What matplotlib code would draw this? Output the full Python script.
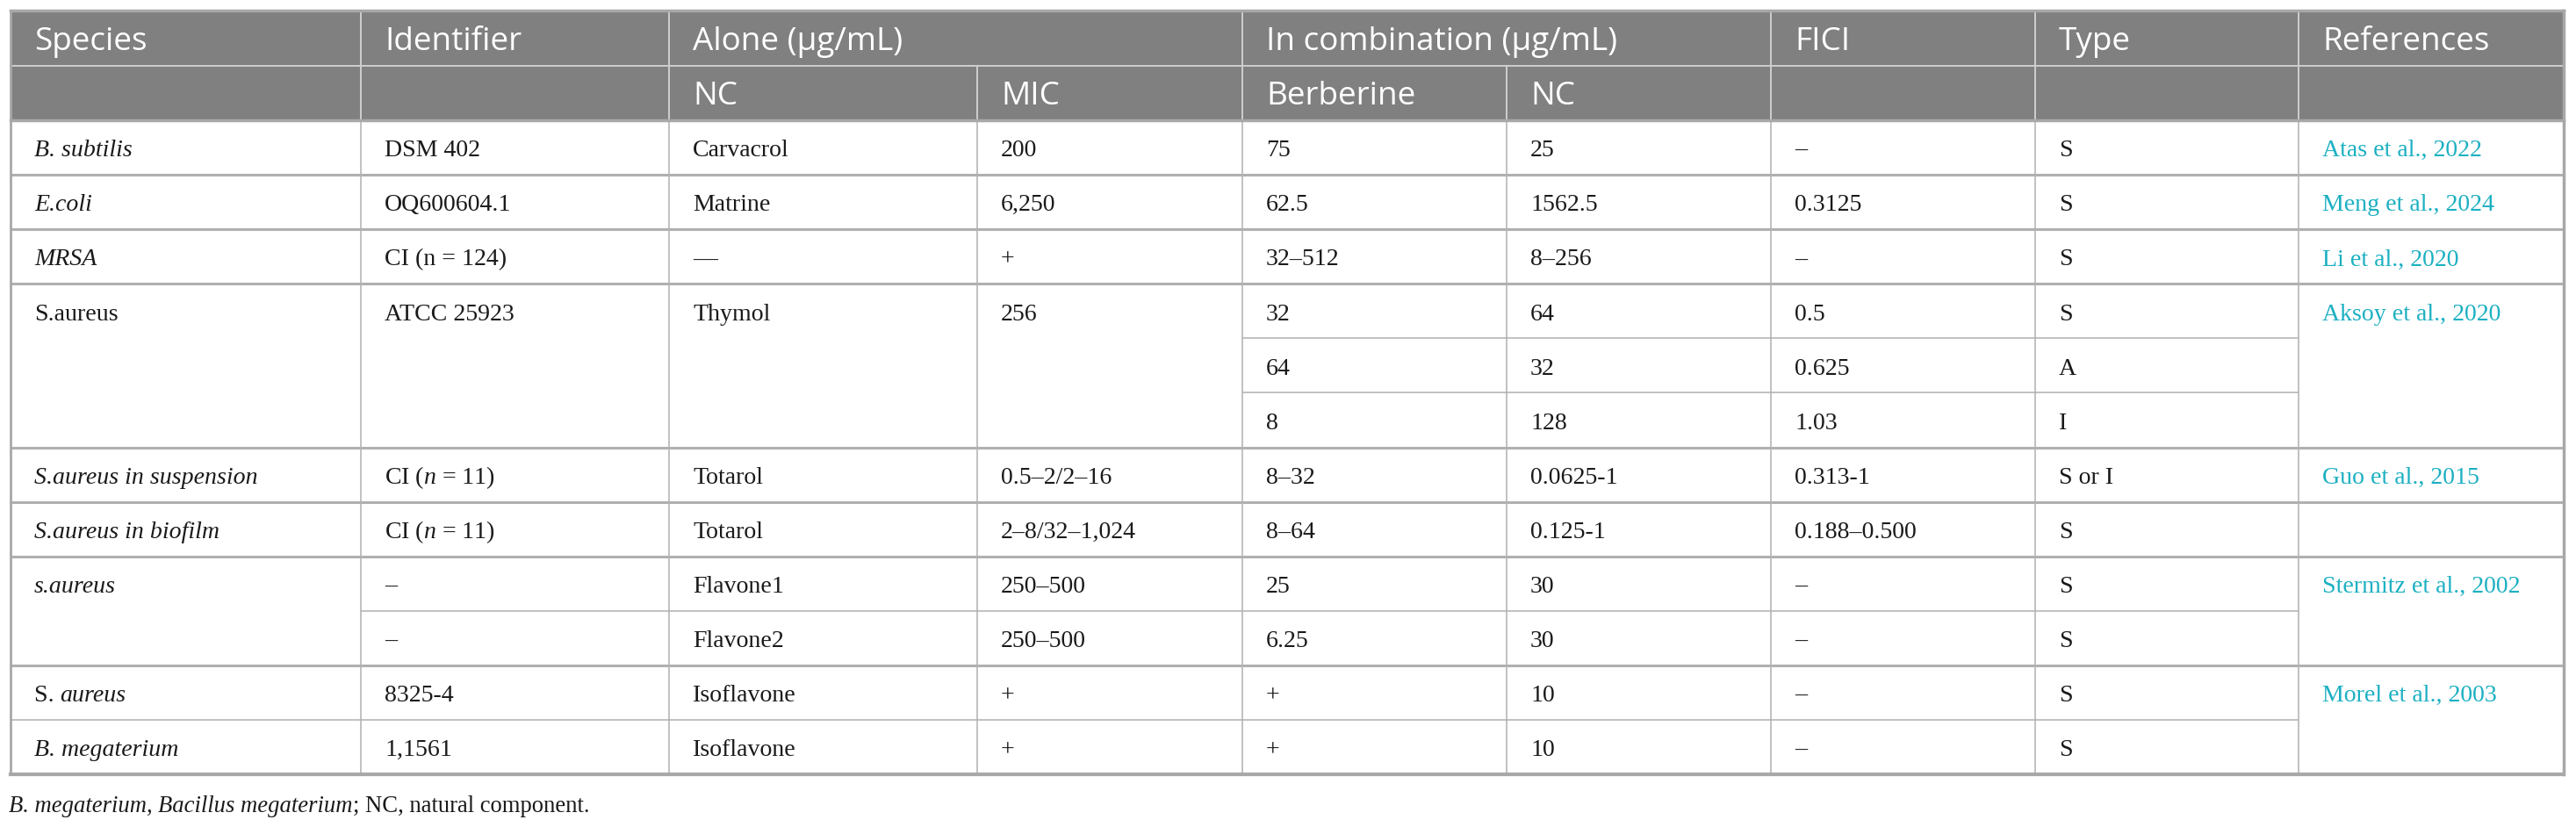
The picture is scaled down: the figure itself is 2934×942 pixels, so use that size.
import matplotlib
matplotlib.use('Agg')
import matplotlib.pyplot as plt
from matplotlib.patches import Rectangle

plt.rcParams['mathtext.fontset'] = 'custom'
plt.rcParams['mathtext.rm'] = 'Liberation Serif'
plt.rcParams['mathtext.it'] = 'Liberation Serif:italic'

# table content (None = merged with the cell above)
header_top = ['Species', 'Identifier', 'Alone (\u03bcg/mL)', None, 'In combination (\u03bcg/mL)', None,
              'FICI', 'Type', 'References']
header_sub = ['', '', 'NC', 'MIC', 'Berberine', 'NC', '', '', '']

# species cells are lists of (text, italic) runs
species = [[('B. subtilis', True)], [('E.coli', True)], [('MRSA', True)], [('S.aureus', False)], None, None,
           [('S.aureus in suspension', True)], [('S.aureus in biofilm', True)], [('s.aureus', True)], None,
           [('S. ', False), ('aureus', True)], [('B. megaterium', True)]]
identifier = ['DSM 402', 'OQ600604.1', 'CI (n = 124)', 'ATCC 25923', None, None,
              r'CI ($n$ = 11)', r'CI ($n$ = 11)', '\u2013', '\u2013', '8325-4', '1,1561']
nc_alone = ['Carvacrol', 'Matrine', '\u2014', 'Thymol', None, None,
            'Totarol', 'Totarol', 'Flavone1', 'Flavone2', 'Isoflavone', 'Isoflavone']
mic_alone = ['200', '6,250', '+', '256', None, None,
             '0.5\u20132/2\u201316', '2\u20138/32\u20131,024', '250\u2013500', '250\u2013500', '+', '+']
berberine = ['75', '62.5', '32\u2013512', '32', '64', '8', '8\u201332', '8\u201364', '25', '6.25', '+', '+']
nc_comb = ['25', '1562.5', '8\u2013256', '64', '32', '128', '0.0625-1', '0.125-1', '30', '30', '10', '10']
fici = ['\u2013', '0.3125', '\u2013', '0.5', '0.625', '1.03', '0.313-1', '0.188\u20130.500',
        '\u2013', '\u2013', '\u2013', '\u2013']
types = ['S', 'S', 'S', 'S', 'A', 'I', 'S or I', 'S', 'S', 'S', 'S', 'S']
references = ['Atas et al., 2022', 'Meng et al., 2024', 'Li et al., 2020', 'Aksoy et al., 2020', None, None,
              'Guo et al., 2015', '', 'Stermitz et al., 2002', None, 'Morel et al., 2003', None]

footnote = [('B. megaterium', True), (', ', False), ('Bacillus megaterium', True),
            ('; NC, natural component.', False)]

columns = [species, identifier, nc_alone, mic_alone, berberine, nc_comb, fici, types, references]

# layout (pixels)
W, H = 2934, 942
col_x = [12, 411, 762, 1113, 1415, 1716, 2017, 2318, 2618, 2920]
y_top, y_h1, y_h2 = 12, 75, 137
row_h = (882 - 137) / 12
pad = 27

head_bg = '#808080'
line_c = '#b0b0b0'
head_line = '#cfcfcf'
ref_c = '#1cb0c2'
txt_c = '#1a1a1a'

fig = plt.figure(figsize=(W / 100, H / 100), dpi=100)
ax = fig.add_axes([0, 0, 1, 1])
ax.set_xlim(0, W)
ax.set_ylim(H, 0)
ax.axis('off')
renderer = fig.canvas.get_renderer()


def text_w(s, **kw):
    t = ax.text(0, 0, s, **kw)
    w = t.get_window_extent(renderer).width
    t.remove()
    return w


def fit_size(s, target, **kw):
    return 20 * target / text_w(s, fontsize=20, **kw)


def draw_runs(x, y, runs, **kw):
    # place text pieces one after the other, each in its own style
    for s, it in runs:
        style = 'italic' if it else 'normal'
        ax.text(x, y, s, fontstyle=style, va='baseline', **kw)
        x += text_w(s + '|', fontstyle=style, **kw) - text_w('|', fontstyle=style, **kw)


head_fs = fit_size('References', 190, family='Open Sans')
cell_fs = fit_size('Atas et al., 2022', 182, family='Liberation Serif')
foot_fs = fit_size(''.join(s for s, _ in footnote), 665, family='Liberation Serif')

# header background
ax.add_patch(Rectangle((col_x[0], y_top), col_x[-1] - col_x[0], y_h2 - y_top, color=head_bg, lw=0))

head_cap = head_fs * 100 / 72 * 0.714
for i, s in enumerate(header_top):
    if s:
        ax.text(col_x[i] + pad, (y_top + y_h1) / 2 + head_cap / 2, s, family='Open Sans',
                fontsize=head_fs, color='white', va='baseline')
    if header_sub[i]:
        ax.text(col_x[i] + pad, (y_h1 + y_h2) / 2 + head_cap / 2, header_sub[i], family='Open Sans',
                fontsize=head_fs, color='white', va='baseline')

# header grid
ax.plot([col_x[0], col_x[-1]], [y_h1, y_h1], color=head_line, lw=1.4)
for i in range(1, len(col_x) - 1):
    y0 = y_h1 if header_top[i] is None else y_top
    ax.plot([col_x[i], col_x[i]], [y0, y_h2], color=head_line, lw=1.4)

# body
n = len(species)
cell_cap = cell_fs * 100 / 72 * 0.662
for c, col in enumerate(columns):
    for r in range(n):
        s = col[r]
        if s is None:
            continue
        yb = y_h2 + (r + 0.5) * row_h + cell_cap / 2 + 1
        if c == 0:
            draw_runs(col_x[c] + pad, yb, s, family='Liberation Serif', fontsize=cell_fs, color=txt_c)
        else:
            color = ref_c if c == len(columns) - 1 else txt_c
            ax.text(col_x[c] + pad, yb, s, family='Liberation Serif', fontsize=cell_fs,
                    color=color, va='baseline')
        # horizontal line above this cell
        if r > 0:
            full = all(cc[r] is not None for cc in columns)
            ax.plot([col_x[c], col_x[c + 1]], [y_h2 + r * row_h] * 2, color=line_c,
                    lw=2.2 if full else 1.1, solid_capstyle='butt')

y_bot = y_h2 + n * row_h
for i in range(1, len(col_x) - 1):
    ax.plot([col_x[i], col_x[i]], [y_h2, y_bot], color=line_c, lw=1.1)

# outer border
ax.plot([col_x[0], col_x[-1]], [y_top, y_top], color='#a8a8a8', lw=2.5)
ax.plot([col_x[0], col_x[-1]], [y_h2, y_h2], color='#a8a8a8', lw=2.5)
ax.plot([col_x[0], col_x[-1]], [y_bot, y_bot], color='#a8a8a8', lw=3.0)
ax.plot([col_x[0], col_x[0]], [y_top, y_bot], color='#a8a8a8', lw=2.0)
ax.plot([col_x[-1], col_x[-1]], [y_top, y_bot], color='#a8a8a8', lw=2.5)

draw_runs(10, 925, footnote, family='Liberation Serif', fontsize=foot_fs, color=txt_c)

fig.savefig('out.png', dpi=100)
